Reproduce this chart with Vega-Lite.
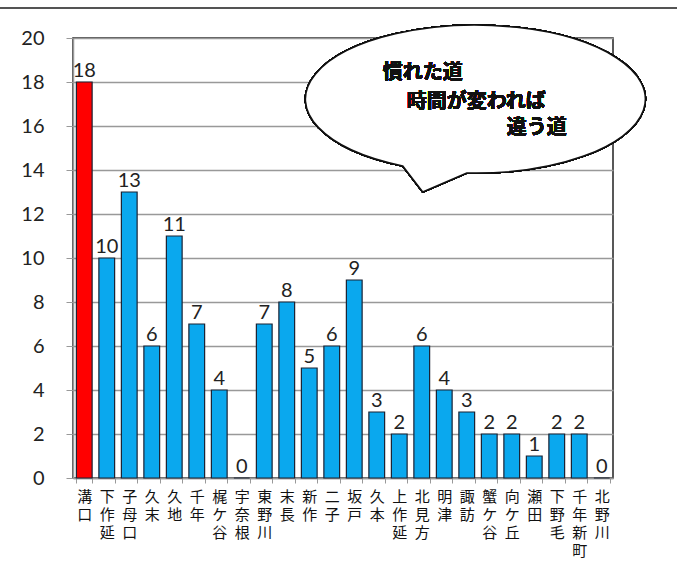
{
  "$schema": "https://vega.github.io/schema/vega-lite/v6.json",
  "width": 540,
  "height": 440,
  "autosize": {"type": "none"},
  "padding": {"left": 73, "top": 38, "right": 64, "bottom": 90},
  "background": "white",
  "config": {
    "view": {"stroke": "#222222", "strokeWidth": 1.5},
    "font": "Lato"
  },
  "data": {
    "values": [
      {"name": "溝口", "count": 18, "highlight": "yes"},
      {"name": "下作延", "count": 10, "highlight": "no"},
      {"name": "子母口", "count": 13, "highlight": "no"},
      {"name": "久末", "count": 6, "highlight": "no"},
      {"name": "久地", "count": 11, "highlight": "no"},
      {"name": "千年", "count": 7, "highlight": "no"},
      {"name": "梶ケ谷", "count": 4, "highlight": "no"},
      {"name": "宇奈根", "count": 0, "highlight": "no"},
      {"name": "東野川", "count": 7, "highlight": "no"},
      {"name": "末長", "count": 8, "highlight": "no"},
      {"name": "新作", "count": 5, "highlight": "no"},
      {"name": "二子", "count": 6, "highlight": "no"},
      {"name": "坂戸", "count": 9, "highlight": "no"},
      {"name": "久本", "count": 3, "highlight": "no"},
      {"name": "上作延", "count": 2, "highlight": "no"},
      {"name": "北見方", "count": 6, "highlight": "no"},
      {"name": "明津", "count": 4, "highlight": "no"},
      {"name": "諏訪", "count": 3, "highlight": "no"},
      {"name": "蟹ケ谷", "count": 2, "highlight": "no"},
      {"name": "向ケ丘", "count": 2, "highlight": "no"},
      {"name": "瀬田", "count": 1, "highlight": "no"},
      {"name": "下野毛", "count": 2, "highlight": "no"},
      {"name": "千年新町", "count": 2, "highlight": "no"},
      {"name": "北野川", "count": 0, "highlight": "no"}
    ]
  },
  "encoding": {
    "x": {
      "field": "name",
      "type": "nominal",
      "sort": null,
      "scale": {"paddingInner": 0.3, "paddingOuter": 0.15},
      "axis": {
        "title": null,
        "labelAngle": 0,
        "labelExpr": "split(datum.label, '')",
        "labelFont": "Noto Sans CJK JP",
        "labelFontSize": 15,
        "labelLineHeight": 18,
        "labelColor": "#111111",
        "labelBaseline": "top",
        "labelPadding": 6,
        "labelOverlap": false,
        "labelBound": false,
        "tickBand": "extent",
        "tickColor": "#999999",
        "tickSize": 5,
        "domainColor": "#999999",
        "domainWidth": 1.5
      }
    },
    "y": {
      "field": "count",
      "type": "quantitative",
      "scale": {"domain": [0, 20], "nice": false},
      "axis": {
        "title": null,
        "values": [0, 2, 4, 6, 8, 10, 12, 14, 16, 18, 20],
        "labelFont": "Lato",
        "labelFontSize": 20,
        "labelColor": "#222222",
        "labelPadding": 22,
        "tickColor": "#999999",
        "tickSize": 7,
        "domainColor": "#999999",
        "domainWidth": 1.5,
        "gridColor": "#999999",
        "gridWidth": 1.5
      }
    }
  },
  "layer": [
    {
      "mark": {"type": "bar", "stroke": "#1a2233", "strokeWidth": 1.2},
      "encoding": {
        "color": {
          "field": "highlight",
          "type": "nominal",
          "scale": {"domain": ["yes", "no"], "range": ["#ff0000", "#0aa8ee"]},
          "legend": null
        }
      }
    },
    {
      "mark": {"type": "text", "baseline": "bottom", "dy": -1, "fontSize": 20, "font": "Lato", "color": "#222222"},
      "encoding": {"text": {"field": "count", "type": "quantitative"}}
    },
    {
      "mark": {"type": "rule", "color": "#555555", "strokeWidth": 1.5, "clip": false},
      "encoding": {
        "y": {"datum": 21.36, "type": "quantitative"},
        "x": {"value": -73},
        "x2": {"value": 604}
      }
    },
    {
      "mark": {
        "type": "point",
        "shape": "M -64 62 A 170 74 0 1 1 0 69 L -44 88 Z",
        "size": 4,
        "filled": true,
        "fill": "white",
        "stroke": "#111111",
        "strokeWidth": 1.6,
        "opacity": 1,
        "clip": false
      },
      "encoding": {
        "x": {"datum": "諏訪", "type": "nominal"},
        "y": {"datum": 17, "type": "quantitative"}
      }
    },
    {
      "mark": {"type": "text", "text": "慣れた道", "align": "left", "baseline": "middle", "dx": -84, "font": "Noto Sans CJK JP", "fontWeight": "bold", "fontSize": 20, "color": "#111111"},
      "encoding": {
        "x": {"datum": "諏訪", "type": "nominal"},
        "y": {"datum": 18.41, "type": "quantitative"}
      }
    },
    {
      "mark": {"type": "text", "text": "時間が変われば", "align": "left", "baseline": "middle", "dx": -60, "font": "Noto Sans CJK JP", "fontWeight": "bold", "fontSize": 20, "color": "#111111"},
      "encoding": {
        "x": {"datum": "諏訪", "type": "nominal"},
        "y": {"datum": 17.09, "type": "quantitative"}
      }
    },
    {
      "mark": {"type": "text", "text": "違う道", "align": "left", "baseline": "middle", "dx": 40, "font": "Noto Sans CJK JP", "fontWeight": "bold", "fontSize": 20, "color": "#111111"},
      "encoding": {
        "x": {"datum": "諏訪", "type": "nominal"},
        "y": {"datum": 15.91, "type": "quantitative"}
      }
    }
  ]
}
